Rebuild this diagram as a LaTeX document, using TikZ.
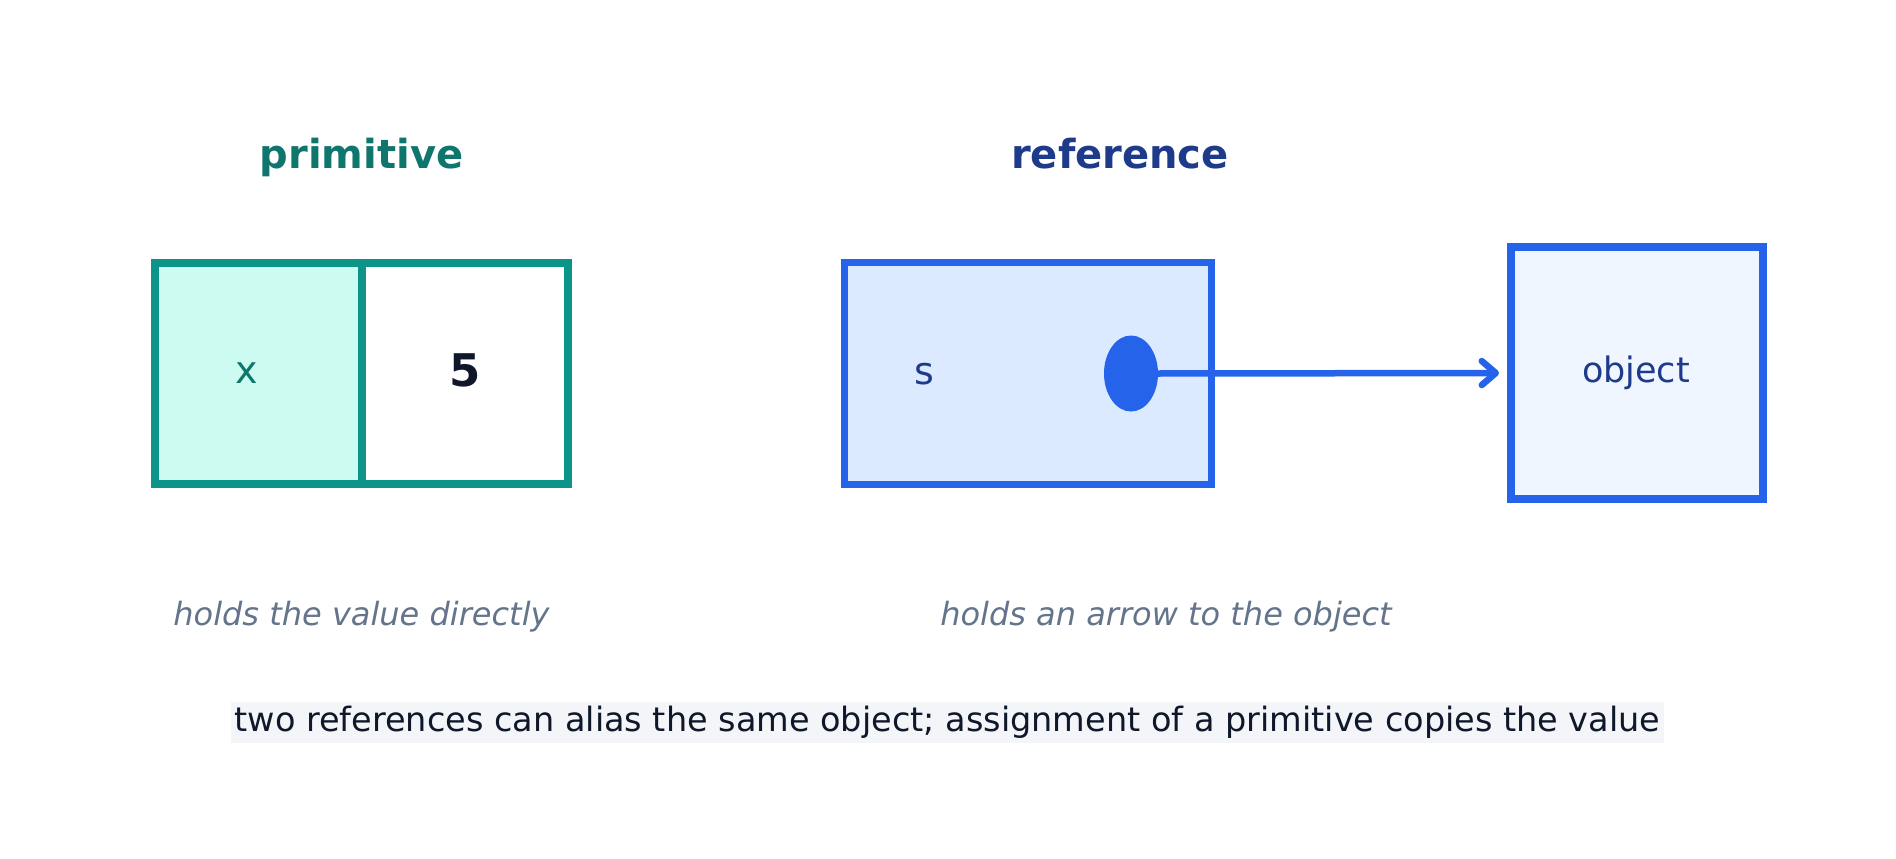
\documentclass[tikz,border=0pt]{standalone}
\usepackage{fontspec}
\setmainfont{DejaVu Sans}
\usetikzlibrary{arrows.meta,shapes.geometric}
\definecolor{tealline}{HTML}{0D9488}
\definecolor{tealfill}{HTML}{CCFBF1}
\definecolor{tealtext}{HTML}{0F766E}
\definecolor{blueline}{HTML}{2563EB}
\definecolor{bluefill}{HTML}{DBEAFE}
\definecolor{objfill}{HTML}{EFF6FF}
\definecolor{bluetext}{HTML}{1E3A8A}
\definecolor{darktext}{HTML}{0F172A}
\definecolor{captext}{HTML}{64748B}
\definecolor{footbg}{HTML}{F3F5F8}
\tikzset{
  title/.style={font=\fontsize{40}{48}\selectfont\bfseries, inner sep=0, anchor=base},
  cellbox/.style={draw=tealline, line width=8pt, inner sep=0},
  refbox/.style={draw=blueline, line width=7pt, inner sep=0},
  label/.style={font=\fontsize{38}{45}\selectfont, inner sep=0},
  caption/.style={font=\fontsize{32}{38}\selectfont\itshape, text=captext, inner sep=0},
  footer/.style={font=\fontsize{33.5}{40}\selectfont, text=darktext, fill=footbg, inner xsep=4pt, inner ysep=0, minimum height=41pt},
  pointer/.style={draw=blueline, line width=6.5pt, line cap=round, -{Straight Barb[length=14pt, width=24pt, line cap=round, line join=round]}}
}
\begin{document}
\begin{tikzpicture}[x=1pt,y=-1pt]
\useasboundingbox (0,0) rectangle (1896,859);
\fill[white] (0,0) rectangle (1896,859);
% titles
\node[title, text=tealtext] (tprim) at (361.5,168.5) {primitive};
\node[title, text=bluetext] (tref) at (1120,168.5) {reference};
% primitive cells
\node[cellbox, fill=white, minimum width=206pt, minimum height=221pt] (vcell) at (465,373.5) {};
\node[cellbox, fill=tealfill, minimum width=207pt, minimum height=221pt] (xcell) at (258.5,373.5) {};
\node[label, text=tealtext] (xlab) at (247,373.5) {x};
\node[label, text=darktext, font=\fontsize{45}{54}\selectfont\bfseries] (vlab) at (465,370) {5};
% reference
\node[refbox, fill=bluefill, minimum width=367pt, minimum height=222pt] (sbox) at (1028,373.5) {};
\node[label, text=bluetext] (slab) at (924.5,374) {s};
\node[ellipse, fill=blueline, minimum width=54pt, minimum height=76pt, inner sep=0] (dot) at (1131,373.5) {};
\node[draw=blueline, fill=objfill, line width=8pt, inner sep=0, minimum width=252pt, minimum height=252pt] (obj) at (1637,373) {};
\node[label, font=\fontsize{35}{42}\selectfont, text=bluetext] (objlab) at (1636,373) {object};
\draw[pointer, shorten >=8pt] (dot.east) -- (obj.west);
% captions
\node[caption] (cprim) at (361.5,617) {holds the value directly};
\node[caption] (cref) at (1166,617) {holds an arrow to the object};
% footer
\node[footer] (foot) at (947.5,722.5) {two references can alias the same object; assignment of a primitive copies the value};
\end{tikzpicture}
\end{document}
